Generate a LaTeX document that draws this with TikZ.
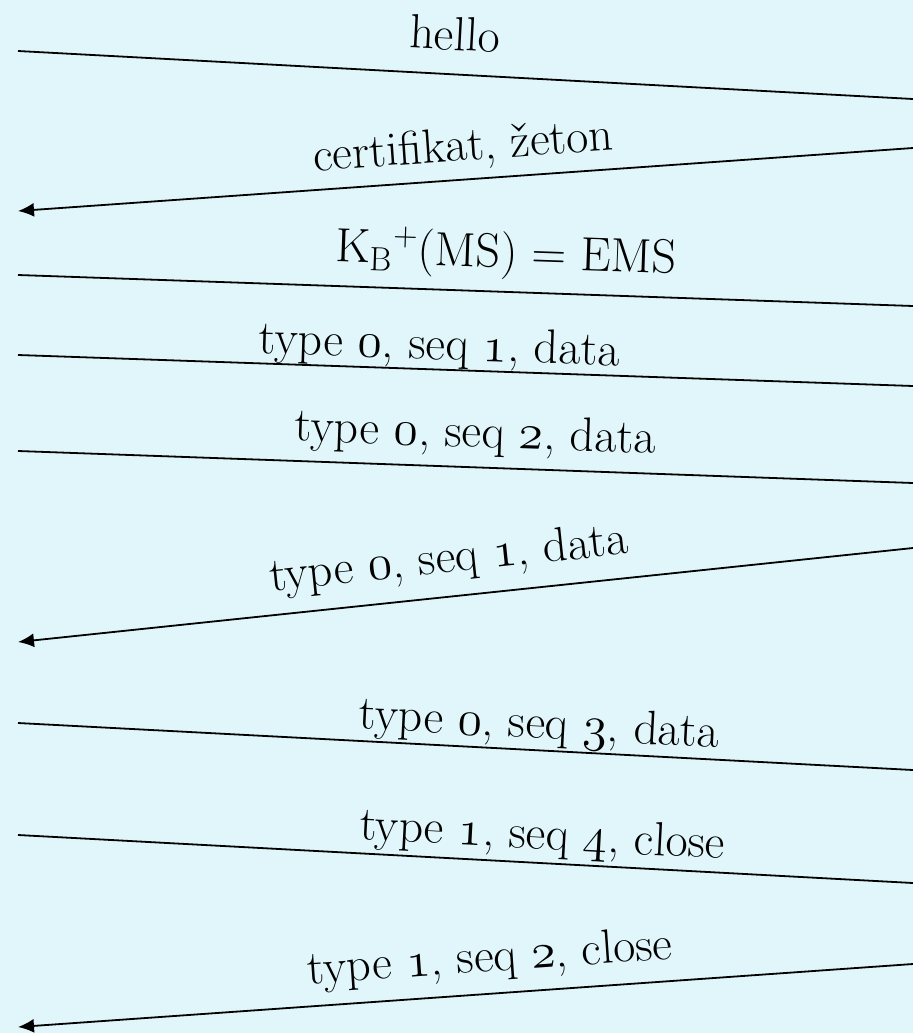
\documentclass[tikz,border=0pt]{standalone}
\usepackage{tikz}
\usetikzlibrary{arrows.meta, positioning}
\definecolor{bgcyan}{RGB}{225, 246, 250}
\newcommand{\osn}[1]{\legacyoldstylenums{#1}}

\tikzset{
  msg/.style={line width=0.9pt},
  back/.style={msg, -{Latex[length=8pt, width=7pt]}},
  lbl/.style={font=\fontsize{24}{28}\selectfont, sloped, anchor=base, inner sep=0pt}
}

\begin{document}
\begin{tikzpicture}[x=0.5pt, y=-0.5pt]
  % Background
  \fill[bgcyan] (0, 0) rectangle (913, 1033);
  \useasboundingbox (0, 0) rectangle (913, 1033);

  % Ends of the messages
  \coordinate (l1) at (18, 51);   \coordinate (r1) at (913, 99);
  \coordinate (l2) at (18, 211);  \coordinate (r2) at (913, 148);
  \coordinate (l3) at (18, 275);  \coordinate (r3) at (913, 306);
  \coordinate (l4) at (18, 355);  \coordinate (r4) at (913, 386);
  \coordinate (l5) at (18, 451);  \coordinate (r5) at (913, 483);
  \coordinate (l6) at (18, 642);  \coordinate (r6) at (913, 548);
  \coordinate (l7) at (18, 723);  \coordinate (r7) at (913, 770);
  \coordinate (l8) at (18, 835);  \coordinate (r8) at (913, 883);
  \coordinate (l9) at (18, 1027); \coordinate (r9) at (913, 964);

  % Handshake
  \draw[msg] (l1) -- node[lbl, pos=0.486, yshift=12pt] (hello) {hello} (r1);
  \draw[back] (r2) -- node[lbl, pos=0.50, yshift=9.5pt] (cert) {certifikat, žeton} (l2);
  \draw[msg] (l3) -- node[lbl, pos=0.544, yshift=12pt] (ems) {K\textsubscript{B}\textsuperscript{+}(MS) = EMS} (r3);

  % Data records
  \draw[msg] (l4) -- node[lbl, pos=0.47, yshift=5pt] (data1) {type \osn{0}, seq \osn{1}, data} (r4);
  \draw[msg] (l5) -- node[lbl, pos=0.51, yshift=10pt] (data2) {type \osn{0}, seq \osn{2}, data} (r5);
  \draw[back] (r6) -- node[lbl, pos=0.514, yshift=12pt] (data1b) {type \osn{0}, seq \osn{1}, data} (l6);
  \draw[msg] (l7) -- node[lbl, pos=0.581, yshift=6pt] (data3) {type \osn{0}, seq \osn{3}, data} (r7);

  % Closing
  \draw[msg] (l8) -- node[lbl, pos=0.584, yshift=7pt] (close4) {type \osn{1}, seq \osn{4}, close} (r8);
  \draw[back] (r9) -- node[lbl, pos=0.47, yshift=11pt] (close2) {type \osn{1}, seq \osn{2}, close} (l9);
\end{tikzpicture}
\end{document}
